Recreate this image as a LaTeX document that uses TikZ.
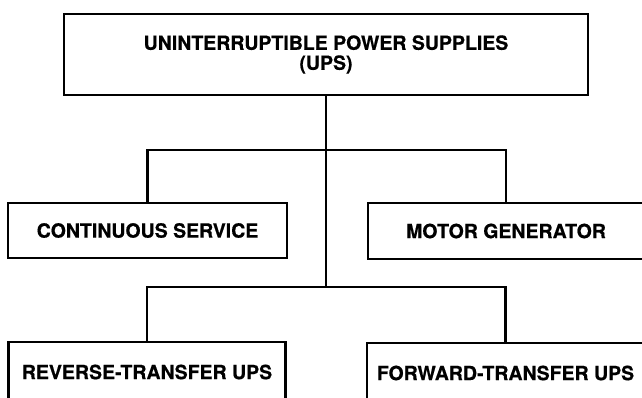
\documentclass[tikz,border=0pt]{standalone}
\usepackage{fontspec}
\setmainfont{TeX Gyre Heros}[BoldFeatures={FakeBold=0.6}]
\begin{document}
\begin{tikzpicture}[x=1pt,y=-1pt,
  box/.style={draw=black, line width=2.3pt, fill=none, inner sep=0pt,
    font=\bfseries\fontsize{19.5}{20}\selectfont, align=center},
  conn/.style={draw=black, line width=2.3pt}]
\useasboundingbox (0,0) rectangle (642,397);
\clip (0,0) rectangle (642,397);
\node[box, minimum width=524, minimum height=81] (top) at (326,54.5)
  {UNINTERRUPTIBLE POWER SUPPLIES\\(UPS)};
\node[box, minimum width=279, minimum height=55] (cont) at (147.5,230.5)
  {CONTINUOUS SERVICE};
\node[box, minimum width=276, minimum height=56] (motor) at (506,231)
  {MOTOR GENERATOR};
\node[box, minimum width=277, minimum height=60] (rev) at (147,372)
  {REVERSE-TRANSFER UPS};
\node[box, minimum width=277, minimum height=60] (fwd) at (505.5,373)
  {FORWARD-TRANSFER UPS};
\coordinate (j1) at (326,150);
\coordinate (j2) at (326,287);
\draw[conn] (top.south) -- (j2);
\draw[conn] (cont.north) |- (j1) -| (motor.north);
\draw[conn] (rev.north) |- (j2) -| (fwd.north);
\end{tikzpicture}
\end{document}
